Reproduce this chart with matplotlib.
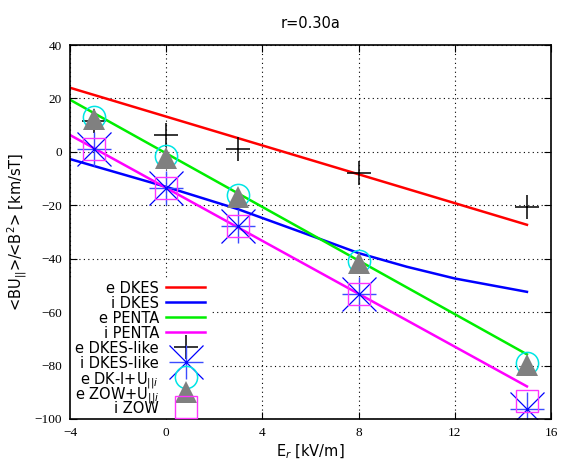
import numpy as np
import matplotlib
matplotlib.use('Agg')
import matplotlib.pyplot as plt
from matplotlib.patches import Rectangle

# model curves
er_line = [-4, 15]
e_dkes = [24.0, -27.3]
e_penta = [19.5, -75.8]
i_penta = [6.3, -87.8]

er_idkes = [-4, 0, 3, 6, 8, 10, 12, 15]
i_dkes = [-2.7, -13.1, -21.5, -31.3, -37.9, -43.0, -47.4, -52.4]

# point calculations
er_pts = [-3, 0, 3, 8, 15]
e_dkes_like = [11.5, 6.2, 0.9, -8.1, -20.7]
i_dkes_like = [1.0, -13.4, -27.8, -53.3, -96.1]
e_dkl_u = [13.0, -1.7, -16.2, -41.0, -79.1]
e_zow_u = [12.3, -2.4, -16.8, -41.6, -79.6]
i_zow = [1.1, -13.4, -27.6, -53.3, -93.2]

xticks = [-4, 0, 4, 8, 12, 16]
yticks = [40, 20, 0, -20, -40, -60, -80, -100]

# styles, shared by the data and the key
st_edkes = dict(color='#ff0000', lw=1.8)
st_idkes = dict(color='#0000ff', lw=1.8)
st_epenta = dict(color='#00ee00', lw=1.8)
st_ipenta = dict(color='#ff00ff', lw=1.8)
st_plus = dict(ls='none', marker='+', ms=17, mew=1.1, color='black')
st_star1 = dict(ls='none', marker='+', ms=25, mew=1.0, color='#3b4cff')
st_star2 = dict(ls='none', marker='x', ms=25, mew=0.9, color='#0000ff')
st_circ = dict(ls='none', marker='o', ms=16, mew=1.1, mfc='none', mec='#00e5e5')
st_tri = dict(ls='none', marker='^', ms=16, mew=0, color='#808080')
st_sq = dict(ls='none', marker='s', ms=16, mew=1.0, mfc='none', mec='#ff33ff')

plt.rcParams['font.family'] = 'DejaVu Sans'
fig = plt.figure(figsize=(5.63, 4.68), dpi=100)
ax = fig.add_axes([70/563, 1-419/468, 481/563, 374/468])

ax.plot(er_line, e_dkes, **st_edkes)
ax.plot(er_idkes, i_dkes, **st_idkes)
ax.plot(er_line, e_penta, **st_epenta)
ax.plot(er_line, i_penta, **st_ipenta)
ax.plot(er_pts, e_dkes_like, **st_plus)
ax.plot(er_pts, i_dkes_like, **st_star1)
ax.plot(er_pts, i_dkes_like, **st_star2)
ax.plot(er_pts, e_dkl_u, **st_circ)
ax.plot(er_pts, e_zow_u, **st_tri)
ax.plot(er_pts, i_zow, **st_sq)

ax.set_xlim(-4, 16)
ax.set_ylim(-100, 40)
ax.set_xticks(xticks)
ax.set_yticks(yticks)
ax.set_xticklabels([str(t).replace('-', '\u2212') for t in xticks],
                   family='Liberation Serif', fontsize=9.5)
ax.set_yticklabels([str(t).replace('-', '\u2212') for t in yticks],
                   family='Liberation Serif', fontsize=9.5)
ax.tick_params(direction='in', length=5, width=0.8, top=True, right=True, pad=6)
ax.grid(True, color='black', ls=(0, (1, 3)), lw=0.8)
for sp in ax.spines.values():
    sp.set_linewidth(1.2)

ax.set_xlabel(r'E$_r$ [kV/m]', fontsize=10.5, labelpad=2)
ax.set_ylabel(r'<BU$_{||}$>/<B$^2$> [km/sT]', fontsize=10.5, labelpad=4)
ax.set_title('r=0.30a', fontsize=10.5, pad=12)

# gnuplot-like key: text right-aligned, sample to the right
key = [('e DKES', [st_edkes], True),
       ('i DKES', [st_idkes], True),
       ('e PENTA', [st_epenta], True),
       ('i PENTA', [st_ipenta], True),
       ('e DKES-like', [st_plus], False),
       ('i DKES-like', [st_star1, st_star2], False),
       (r'e DK-l+U$_{||i}$', [st_circ], False),
       (r'e ZOW+U$_{||i}$', [st_tri], False),
       ('i ZOW', [st_sq], False)]
y0, dy = 0.3538, 0.0402
xt, xs0, xs1 = 0.185, 0.1996, 0.2807
ax.add_patch(Rectangle((0.0, 0.0), 0.291, 0.374, transform=ax.transAxes,
                       facecolor='white', edgecolor='none', zorder=1.8))
for k, (lab, styles, is_line) in enumerate(key):
    yk = y0 - k*dy
    ax.text(xt, yk, lab, ha='right', va='center_baseline', fontsize=10.5,
            transform=ax.transAxes, zorder=5)
    for s in styles:
        if is_line:
            ax.plot([xs0, xs1], [yk, yk], transform=ax.transAxes,
                    clip_on=False, zorder=5, **s)
        else:
            ax.plot([(xs0 + xs1)/2], [yk], transform=ax.transAxes,
                    clip_on=False, zorder=5, **s)

fig.savefig('out.png', dpi=100)
